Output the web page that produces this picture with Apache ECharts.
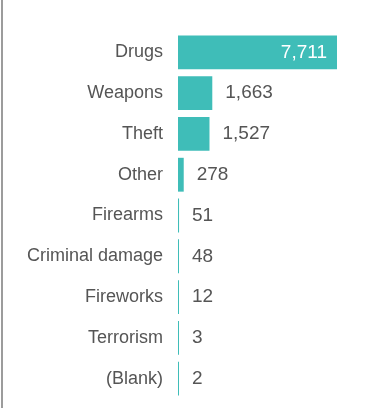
<!DOCTYPE html>
<html>
<head>
<meta charset="utf-8">
<script src="https://cdn.jsdelivr.net/npm/echarts@6/dist/echarts.min.js"></script>
<style>html,body{margin:0;padding:0;background:#fff;}#c{width:380px;height:408px;}</style>
</head>
<body>
<div id="c"></div>
<script>
var categories = ['Drugs','Weapons','Theft','Other','Firearms','Criminal damage','Fireworks','Terrorism','(Blank)'];
var values = [7711,1663,1527,278,51,48,12,3,2];

var chart = echarts.init(document.getElementById('c'), null, {renderer:'canvas'});
var fmt = function(v){ return v.toString().replace(/\B(?=(\d{3})+(?!\d))/g, ','); };
var maxVal = Math.max.apply(null, values);
var data = values.map(function(v, i){
  var d = {value: v};
  if (v === maxVal) {
    d.label = {position: 'insideRight', color: '#ffffff', distance: 10};
  }
  return d;
});
chart.setOption({
  animation: false,
  graphic: [{type:'rect', shape:{x:1, y:0, width:2, height:408}, style:{fill:'#9c9c9c'}}],
  grid: {left: 178, right: 43, top: 32, bottom: 9},
  xAxis: {type:'value', min:0, max: maxVal, show:false},
  yAxis: {
    type:'category', data: categories, inverse:true,
    axisLine:{show:false}, axisTick:{show:false},
    axisLabel:{color:'#555555', fontSize:18, fontFamily:'Liberation Sans, Arial, sans-serif', margin:15}
  },
  series: [{
    type:'bar', data: data, barCategoryGap:'17%', barMinHeight:1,
    itemStyle:{color:'#3fbdb8'},
    label:{show:true, position:'right', distance:13, color:'#555555', fontSize:19,
      fontFamily:'Liberation Sans, Arial, sans-serif', formatter:function(p){return fmt(p.value);}}
  }]
});
</script>
</body>
</html>
